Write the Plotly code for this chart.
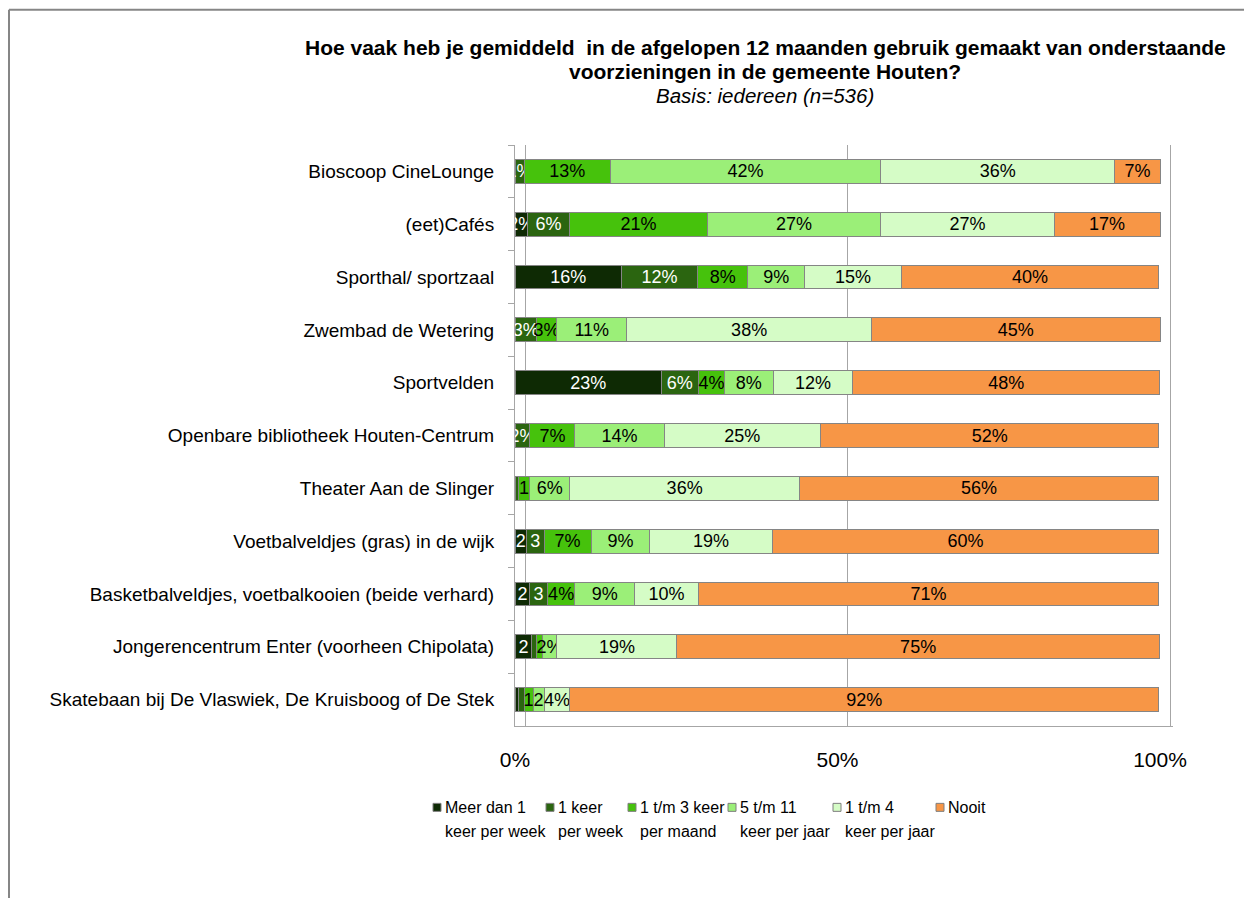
import plotly.graph_objects as go

categories = [
    "Bioscoop CineLounge",
    "(eet)Cafés",
    "Sporthal/ sportzaal",
    "Zwembad de Wetering",
    "Sportvelden",
    "Openbare bibliotheek Houten-Centrum",
    "Theater Aan de Slinger",
    "Voetbalveldjes (gras) in de wijk",
    "Basketbalveldjes, voetbalkooien (beide verhard)",
    "Jongerencentrum Enter (voorheen Chipolata)",
    "Skatebaan bij De Vlaswiek, De Kruisboog of De Stek",
]

series_names = [
    "Meer dan 1<br>keer per week",
    "1 keer<br>per week",
    "1 t/m 3 keer<br>per maand",
    "5 t/m 11<br>keer per jaar",
    "1 t/m 4<br>keer per jaar",
    "Nooit",
]

meer_dan_1_per_week = [0, 1.9, 16.5, 0, 22.7, 0, 0, 1.8, 2.3, 2.6, 0.5]
een_keer_per_week = [1.4, 6.6, 11.8, 3.3, 5.7, 2.3, 0.5, 2.7, 2.7, 0.8, 0.9]
een_tm_3_per_maand = [13.4, 21.3, 7.8, 3.2, 4.1, 7.0, 1.8, 7.3, 4.3, 0.8, 1.4]
vijf_tm_11_per_jaar = [41.9, 26.9, 8.8, 10.8, 7.5, 13.8, 6.2, 9.1, 9.2, 2.3, 1.7]
een_tm_4_per_jaar = [36.3, 26.9, 15.0, 38.0, 12.4, 24.3, 35.6, 19.0, 10.0, 18.6, 4.0]
nooit = [7.0, 16.4, 39.9, 44.7, 47.5, 52.4, 55.7, 59.9, 71.2, 74.8, 91.3]

labels_meer = ["", "2%", "16%", "", "23%", "", "", "2", "2", "2", ""]
labels_1pw = ["1%", "6%", "12%", "3%", "6%", "2%", "", "3", "3", "", ""]
labels_1_3 = ["13%", "21%", "8%", "3%", "4%", "7%", "1", "7%", "4%", "", "1"]
labels_5_11 = ["42%", "27%", "9%", "11%", "8%", "14%", "6%", "9%", "9%", "2%", "2"]
labels_1_4 = ["36%", "27%", "15%", "38%", "12%", "25%", "36%", "19%", "10%", "19%", "4%"]
labels_nooit = ["7%", "17%", "40%", "45%", "48%", "52%", "56%", "60%", "71%", "75%", "92%"]

x_tickvals = [0, 50, 100]
x_ticktext = ["0%", "50%", "100%"]
grid_vals = [0, 50, 100]

title_lines = [
    "<b>Hoe vaak heb je gemiddeld  in de afgelopen 12 maanden gebruik gemaakt van onderstaande</b>",
    "<b>voorzieningen in de gemeente Houten?</b>",
    "<i>Basis: iedereen (n=536)</i>",
]

values = [meer_dan_1_per_week, een_keer_per_week, een_tm_3_per_maand,
          vijf_tm_11_per_jaar, een_tm_4_per_jaar, nooit]
labels = [labels_meer, labels_1pw, labels_1_3, labels_5_11, labels_1_4, labels_nooit]
colors = ["#0e2a04", "#2b6510", "#46c20c", "#9bef78", "#d5fcc6", "#f79646"]
text_colors = ["white", "white", "black", "black", "black", "black"]

FONT = "Liberation Sans, Arial, sans-serif"
GRAY = "#a6a6a6"

# page has an 8px body margin; figure coordinates = page - 8
OFF = 8
W, H = 1244, 890
L, PW = 507, 658          # front 0% at page 515, back wall 100% at page 1170
T, PH = 136.5, 582
R = W - L - PW
B = H - T - PH
DEPTH = 10 * 100 / 645     # back-wall offset in data units
XMAX = 100 * PW / 645


def fx(page_x):
    return (page_x - OFF - L) / PW


def fy(page_y):
    return (T + PH - (page_y - OFF)) / PH


fig = go.Figure()
for name, vals, lab, col, tcol in zip(series_names, values, labels, colors, text_colors):
    fig.add_trace(go.Bar(
        y=categories, x=vals, name=name, orientation="h",
        marker=dict(color=col, line=dict(color="#858585", width=1)),
        text=lab, textposition="inside", insidetextanchor="middle",
        textangle=0, textfont=dict(color=tcol, size=18, family=FONT),
        hoverinfo="skip", showlegend=False,
    ))

# invisible trace to carry the back-wall grid axis
fig.add_trace(go.Scatter(x=[], y=[], xaxis="x2", yaxis="y", showlegend=False,
                         hoverinfo="skip"))

annotations = []
title_y = [47, 71, 95]
for line, yy in zip(title_lines, title_y):
    annotations.append(dict(
        text=line, xref="paper", yref="paper", x=fx(765), y=fy(yy),
        xanchor="center", yanchor="middle", showarrow=False,
        font=dict(size=21 if "<b>" in line else 20.5, family=FONT, color="black"),
    ))

# legend drawn as swatches + text
legend_sq_x = [433, 546, 628, 728, 833, 936]
legend_line_y = [808, 832]
shapes = []
for name, col, sx in zip(series_names, colors, legend_sq_x):
    shapes.append(dict(
        type="rect", xref="paper", yref="paper",
        x0=fx(sx), x1=fx(sx + 8), y0=fy(legend_line_y[0] + 4), y1=fy(legend_line_y[0] - 4),
        fillcolor=col, line=dict(color="#7f7f7f", width=1),
    ))
    for part, ly in zip(name.split("<br>"), legend_line_y):
        annotations.append(dict(
            text=part, xref="paper", yref="paper", x=fx(sx + 10), y=fy(ly),
            xanchor="left", yanchor="middle", showarrow=False,
            font=dict(size=16, family=FONT, color="black"),
        ))

# outer chart border (top, left, right)
shapes.append(dict(type="line", xref="paper", yref="paper",
                   x0=fx(9), x1=fx(1248), y0=fy(9), y1=fy(9),
                   line=dict(color="#868686", width=2)))
shapes.append(dict(type="line", xref="paper", yref="paper",
                   x0=fx(9), x1=fx(9), y0=fy(9), y1=fy(906),
                   line=dict(color="#868686", width=2)))
shapes.append(dict(type="line", xref="paper", yref="paper",
                   x0=fx(1248), x1=fx(1248), y0=fy(9), y1=fy(906),
                   line=dict(color="#868686", width=2)))

fig.update_layout(
    barmode="stack",
    bargap=0.55,
    width=W, height=H,
    margin=dict(l=L, r=R, t=T, b=B, pad=0),
    paper_bgcolor="white", plot_bgcolor="white",
    font=dict(family=FONT, size=18, color="black"),
    uniformtext=dict(minsize=18, mode="show"),
    showlegend=False,
    xaxis=dict(
        range=[0, XMAX], tickvals=x_tickvals, ticktext=x_ticktext,
        showgrid=False,
        showline=True, linecolor=GRAY, linewidth=1,
        zeroline=False, ticks="", ticklabelstandoff=15,
        tickfont=dict(size=21, family=FONT),
    ),
    xaxis2=dict(
        overlaying="x", anchor="y", side="top",
        range=[-DEPTH, XMAX - DEPTH], tickvals=grid_vals,
        showgrid=True, gridcolor=GRAY, gridwidth=1,
        showticklabels=False, ticks="", showline=False, zeroline=False,
    ),
    yaxis=dict(
        autorange="reversed",
        showline=True, linecolor=GRAY, linewidth=1,
        ticks="outside", tickson="boundaries", ticklen=6, tickcolor=GRAY,
        ticklabelstandoff=16,
        tickfont=dict(size=19, family=FONT),
    ),
    annotations=annotations,
    shapes=shapes,
)

fig.write_html("out.html")
